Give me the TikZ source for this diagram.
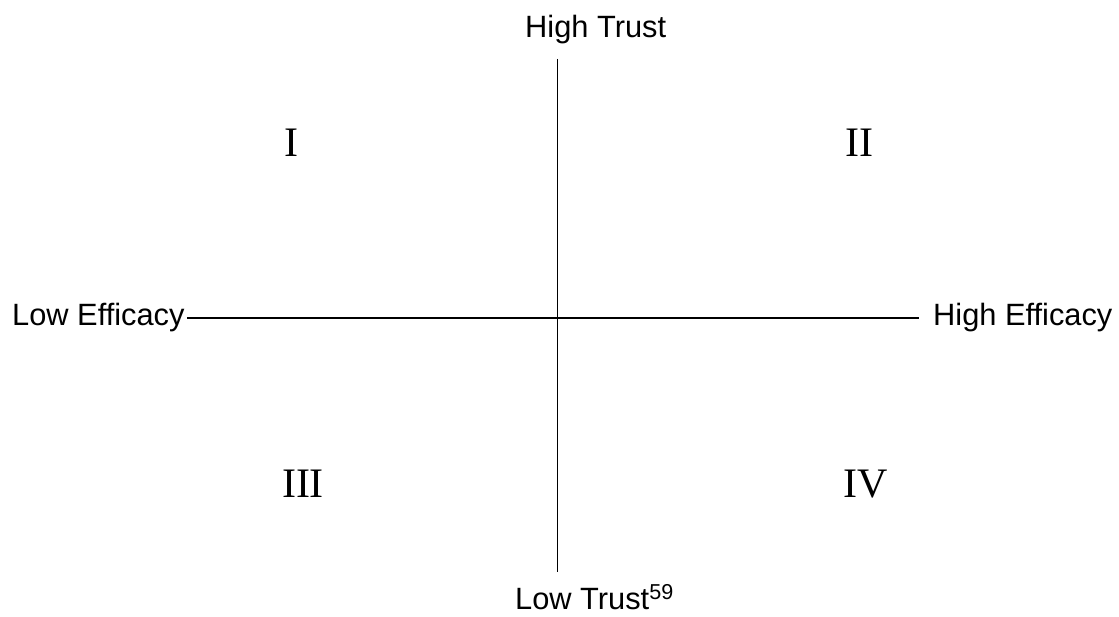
\documentclass[tikz,border=0pt]{standalone}
\usepackage{fontspec}
\setmainfont{Liberation Sans}
\newfontfamily\romfont{Liberation Serif}
\begin{document}
\begin{tikzpicture}[x=1pt,y=-1pt,
  axlabel/.style={inner sep=0pt,font=\fontsize{30.8}{36}\selectfont},
  quad/.style={inner sep=0pt,anchor=base,font=\romfont\fontsize{42}{48}\selectfont},
  axis/.style={line width=1.6pt}]
\useasboundingbox (0,0) rectangle (1119,617);
\node[axlabel,anchor=base west] (lowE) at (12,326) {Low Efficacy};
\node[axlabel,anchor=base west] (highE) at (933,326) {High Efficacy};
\node[axlabel,anchor=base west] (highT) at (525,38) {High Trust};
\node[axlabel,anchor=base west] (lowT) at (515,609) {Low Trust\textsuperscript{59}};
\coordinate (hL) at (187,318);
\coordinate (hR) at (919,318);
\coordinate (vT) at (557.5,59);
\coordinate (vB) at (557.5,572);
\draw[axis] (hL) -- (hR);
\draw[axis] (vT) -- (vB);
\node[quad] (q1) at (291,157) {I};
\node[quad] (q2) at (859,157) {II};
\node[quad] (q3) at (303,497) {III};
\node[quad] (q4) at (866,497) {IV};
\end{tikzpicture}
\end{document}
